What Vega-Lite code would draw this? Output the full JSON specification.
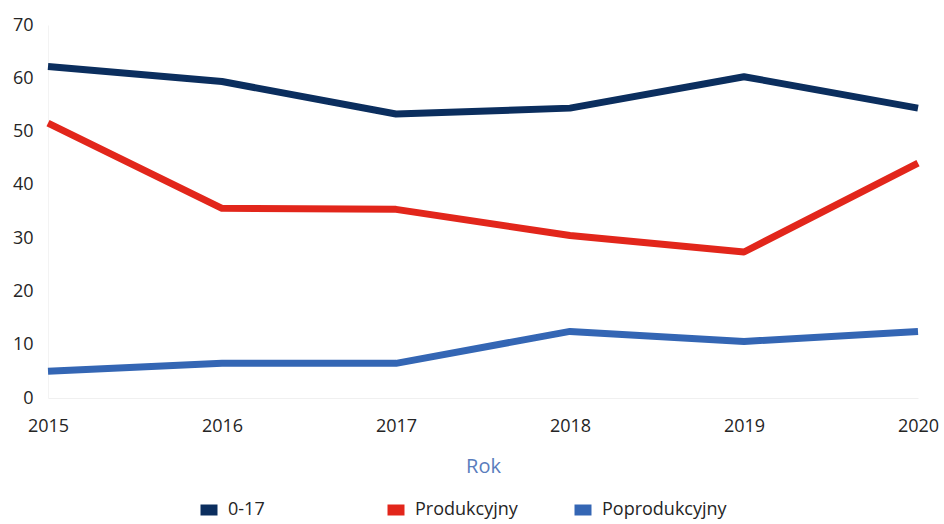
{
  "$schema": "https://vega.github.io/schema/vega-lite/v6.json",
  "autosize": "none",
  "width": 870,
  "height": 373,
  "padding": {"left": 48, "top": 25, "right": 26, "bottom": 126},
  "background": "white",
  "config": {
    "font": "Open Sans",
    "view": {"stroke": null}
  },
  "data": {
    "values": [
      {"rok": 2015, "grupa": "0-17", "v": 62.2},
      {"rok": 2016, "grupa": "0-17", "v": 59.4},
      {"rok": 2017, "grupa": "0-17", "v": 53.3},
      {"rok": 2018, "grupa": "0-17", "v": 54.4},
      {"rok": 2019, "grupa": "0-17", "v": 60.3},
      {"rok": 2020, "grupa": "0-17", "v": 54.4},
      {"rok": 2015, "grupa": "Produkcyjny", "v": 51.6},
      {"rok": 2016, "grupa": "Produkcyjny", "v": 35.6},
      {"rok": 2017, "grupa": "Produkcyjny", "v": 35.4},
      {"rok": 2018, "grupa": "Produkcyjny", "v": 30.5},
      {"rok": 2019, "grupa": "Produkcyjny", "v": 27.4},
      {"rok": 2020, "grupa": "Produkcyjny", "v": 44.1},
      {"rok": 2015, "grupa": "Poprodukcyjny", "v": 5.0},
      {"rok": 2016, "grupa": "Poprodukcyjny", "v": 6.5},
      {"rok": 2017, "grupa": "Poprodukcyjny", "v": 6.5},
      {"rok": 2018, "grupa": "Poprodukcyjny", "v": 12.5},
      {"rok": 2019, "grupa": "Poprodukcyjny", "v": 10.6},
      {"rok": 2020, "grupa": "Poprodukcyjny", "v": 12.5}
    ]
  },
  "mark": {"type": "line", "strokeWidth": 7, "interpolate": "linear", "strokeCap": "butt", "strokeJoin": "round"},
  "encoding": {
    "x": {
      "field": "rok",
      "type": "quantitative",
      "scale": {"domain": [2015, 2020], "nice": false, "zero": false},
      "axis": {
        "title": "Rok",
        "format": "d",
        "values": [2015, 2016, 2017, 2018, 2019, 2020],
        "grid": false,
        "ticks": false,
        "domainColor": "#f0f0f0",
        "labelFontSize": 18,
        "labelColor": "#252525",
        "labelPadding": 19,
        "labelFlush": false,
        "titleFontSize": 20,
        "titleFontWeight": "normal",
        "titleColor": "#5a7dbd",
        "titlePadding": 21
      }
    },
    "y": {
      "field": "v",
      "type": "quantitative",
      "scale": {"domain": [0, 70], "nice": false},
      "axis": {
        "title": null,
        "values": [0, 10, 20, 30, 40, 50, 60, 70],
        "grid": false,
        "ticks": false,
        "domainColor": "#f3f3f3",
        "labelFontSize": 18,
        "labelColor": "#252525",
        "labelPadding": 15
      }
    },
    "color": {
      "field": "grupa",
      "type": "nominal",
      "sort": ["0-17", "Produkcyjny", "Poprodukcyjny"],
      "scale": {
        "domain": ["0-17", "Produkcyjny", "Poprodukcyjny"],
        "range": ["#0b2e5e", "#e2261b", "#3466b4"]
      },
      "legend": {
        "title": null,
        "orient": "none",
        "legendX": 147,
        "legendY": 471,
        "direction": "horizontal",
        "columns": 3,
        "gridAlign": "all",
        "columnPadding": 12,
        "symbolType": "stroke",
        "symbolSize": 289,
        "symbolStrokeWidth": 11,
        "labelFontSize": 18,
        "labelColor": "#252525",
        "labelOffset": 5
      }
    }
  }
}
